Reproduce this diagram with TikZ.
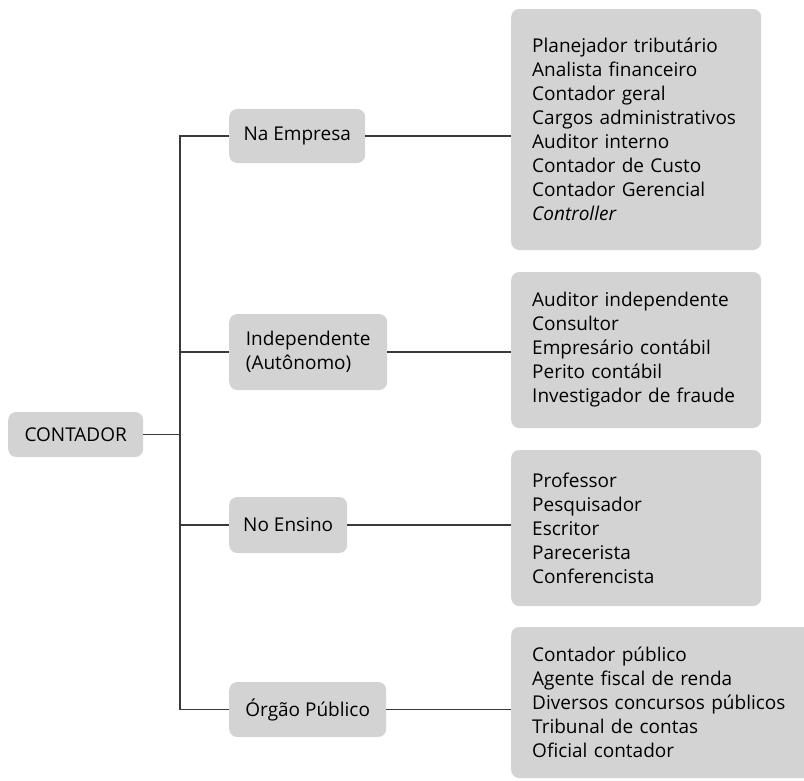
\documentclass[tikz,border=0pt]{standalone}
\usepackage{fontspec}
\setmainfont{Open Sans}
\definecolor{boxgray}{RGB}{211,211,211}
\definecolor{linegray}{RGB}{58,58,58}
\begin{document}
\begin{tikzpicture}[x=1pt,y=-1pt,
  every node/.style={font=\fontsize{19}{24}\selectfont, text=black},
  cat/.style={fill=boxgray, rounded corners=8pt, inner xsep=0pt, inner ysep=0pt, align=left, anchor=west},
  list/.style={fill=boxgray, rounded corners=8pt, inner xsep=21pt, inner ysep=0pt, align=left, anchor=west, text width=208pt},
  conn/.style={draw=linegray, line width=1.5pt}]
\useasboundingbox (0,0) rectangle (804,780);
% root
\node[cat, minimum width=135pt, minimum height=45pt] (root) at (8,434.5) {CONTADOR};
% categories
\node[cat, minimum width=136pt, minimum height=54pt] (emp) at (229,136) {Na Empresa};
\node[cat, minimum width=158pt, minimum height=76pt] (ind) at (229,352) {Independente\\(Autônomo)};
\node[cat, minimum width=118pt, minimum height=56pt] (ens) at (229,525) {No Ensino};
\node[cat, minimum width=157pt, minimum height=55pt] (org) at (229,709.5) {Órgão Público};
% lists
\node[list, minimum height=241pt] (l1) at (511,129.5) {Planejador tributário\\Analista financeiro\\Contador geral\\Cargos administrativos\\Auditor interno\\Contador de Custo\\Contador Gerencial\\\textit{Controller}};
\node[list, minimum height=156pt] (l2) at (511,350) {Auditor independente\\Consultor\\Empresário contábil\\Perito contábil\\Investigador de fraude};
\node[list, minimum height=156pt] (l3) at (511,528) {Professor\\Pesquisador\\Escritor\\Parecerista\\Conferencista};
\node[list, text width=270pt, minimum height=151pt] (l4) at (511,702.5) {Contador público\\Agente fiscal de renda\\Diversos concursos públicos\\Tribunal de contas\\Oficial contador};
% trunk
\coordinate (jr) at (180,434.5);
\coordinate (top) at (180,136);
\coordinate (bot) at (180,709.5);
\draw[conn] (root.east) -- (jr);
\draw[conn] (emp.west) -- (top) -- (bot) -- (org.west);
\draw[conn] (ind.west) -- (ind.west -| jr);
\draw[conn] (ens.west) -- (ens.west -| jr);
\draw[conn] (emp.east) -- (emp.east -| l1.west);
\draw[conn] (ind.east) -- (ind.east -| l2.west);
\draw[conn] (ens.east) -- (ens.east -| l3.west);
\draw[conn] (org.east) -- (org.east -| l4.west);
\end{tikzpicture}
\end{document}
